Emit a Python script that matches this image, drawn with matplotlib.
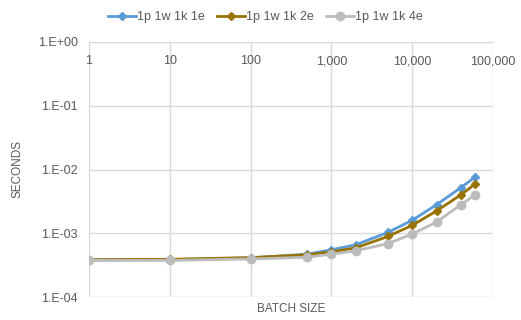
import numpy as np
import matplotlib
matplotlib.use('Agg')
from matplotlib import pyplot as plt

# batch sizes and timings (seconds)
batch = [1, 10, 100, 500, 1000, 2000, 5000, 10000, 20000, 40000, 60000]
t_1e = [3.8e-4, 3.85e-4, 4.1e-4, 4.7e-4, 5.5e-4, 6.6e-4, 1.03e-3, 1.6e-3, 2.8e-3, 5.2e-3, 7.6e-3]
t_2e = [3.85e-4, 3.9e-4, 4.15e-4, 4.6e-4, 5.1e-4, 5.9e-4, 8.9e-4, 1.33e-3, 2.24e-3, 4.0e-3, 5.9e-3]
t_4e = [3.75e-4, 3.75e-4, 3.95e-4, 4.2e-4, 4.7e-4, 5.3e-4, 6.9e-4, 9.7e-4, 1.5e-3, 2.8e-3, 4.0e-3]
names = ['1p 1w 1k 1e', '1p 1w 1k 2e', '1p 1w 1k 4e']

x_ticks = [1, 10, 100, 1000, 10000, 100000]
x_labels = ['1', '10', '100', '1,000', '10,000', '100,000']
y_ticks = [1e-4, 1e-3, 1e-2, 1e-1, 1e0]
y_labels = ['1.E-04', '1.E-03', '1.E-02', '1.E-01', '1.E+00']

txt = '#595959'
grid = '#d9d9d9'

fig = plt.figure(figsize=(5.21, 3.2), dpi=100)
ax = fig.add_axes([89/521, 1 - 297/320, (493-89)/521, (297-42)/320])

ax.plot(batch, t_1e, color='#5b9bd5', marker='D', ms=4, lw=2, label=names[0])
ax.plot(batch, t_2e, color='#997300', marker='D', ms=4, lw=2, label=names[1])
ax.plot(batch, t_4e, color='#bcbcbc', marker='o', ms=6, lw=2, label=names[2])

ax.set_xscale('log')
ax.set_yscale('log')
ax.set_xlim(1, 100000)
ax.set_ylim(1e-4, 1)
ax.set_xticks(x_ticks)
ax.set_xticklabels(x_labels)
ax.set_yticks(y_ticks)
ax.set_yticklabels(y_labels)
ax.minorticks_off()

# x labels sit just under the top axis line
ax.tick_params(axis='x', which='both', top=False, bottom=False, labelbottom=False,
               labeltop=False, length=0)
for xv, lab in zip(x_ticks, x_labels):
  ax.text(xv, 0.925, lab, transform=ax.get_xaxis_transform(), ha='center', va='center',
          fontsize=9, color=txt, family='Liberation Sans')
ax.tick_params(axis='y', length=0, pad=8, colors=txt, labelsize=9)
for lab in ax.get_yticklabels():
  lab.set_family('Liberation Sans')

ax.grid(True, color=grid, lw=1)
for s in ['left', 'right', 'bottom']:
  ax.spines[s].set_visible(False)
ax.spines['top'].set_color(grid)
ax.set_axisbelow(True)

ax.set_xlabel('BATCH SIZE', color=txt, fontsize=8.5, family='Liberation Sans', labelpad=4)
ax.set_ylabel('SECONDS', color=txt, fontsize=8.5, family='Liberation Sans', labelpad=10)

fig.legend(loc='upper center', bbox_to_anchor=(0.51, 1.0), ncol=3, frameon=False,
           prop={'family': 'Liberation Sans', 'size': 9}, labelcolor=txt,
           handlelength=2.2, columnspacing=1.0, handletextpad=0.1)

plt.savefig('out.png', dpi=100)
